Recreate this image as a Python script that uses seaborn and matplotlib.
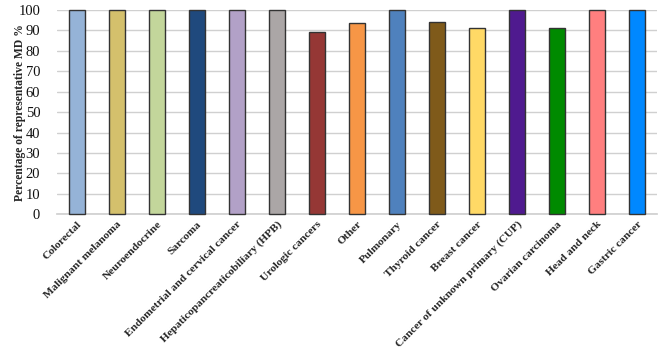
import matplotlib
matplotlib.use("Agg")
import matplotlib.pyplot as plt
import seaborn as sns
import pandas as pd

categories = ["Colorectal", "Malignant melanoma", "Neuroendocrine", "Sarcoma",
              "Endometrial and cervical cancer", "Hepaticopancreaticobiliary (HPB)",
              "Urologic cancers", "Other", "Pulmonary", "Thyroid cancer", "Breast cancer",
              "Cancer of unknown primary (CUP)", "Ovarian carcinoma", "Head and neck",
              "Gastric cancer"]
values = [100, 100, 100, 100, 100, 100, 89, 93.5, 100, 94, 91, 100, 91, 100, 100]
colors = ["#95B3D7", "#D4C06C", "#C3D69B", "#1F497D", "#B2A1C7", "#ABA6A6",
          "#953735", "#F79646", "#4F81BD", "#7F5A1A", "#FFD966", "#4F1A8F",
          "#008A00", "#FF7F7F", "#0088FF"]
yticks = list(range(0, 101, 10))

sns.set_theme(style="white")
plt.rcParams['font.family'] = ['Liberation Serif', 'DejaVu Serif']

df = pd.DataFrame({"cat": categories, "val": values})
fig = plt.figure(figsize=(6.69, 3.57), dpi=100)
ax = fig.add_axes([0.085, 0.40, 0.897, 0.572])
sns.barplot(data=df, x="cat", y="val", hue="cat", palette=colors, legend=False,
            saturation=1, width=0.4, edgecolor="#333333", linewidth=1.0, ax=ax, zorder=3)
for p in ax.patches:
    p.set_clip_on(False)
ax.set_ylim(0, 100)
ax.set_yticks(yticks)
ax.set_yticklabels([str(t) for t in yticks], fontsize=10.5, color="#111111")
ax.yaxis.grid(True, color="#D0D0D0", linewidth=1.0, zorder=0)
ax.set_axisbelow(True)
ax.set_xlabel("")
ax.set_ylabel("Percentage of representative MD %", fontsize=8.4, fontweight="bold")
ax.yaxis.set_label_coords(-0.052, 0.5)
ax.set_xticks(range(len(categories)))
ax.set_xticklabels(categories, rotation=45, ha="right", rotation_mode="anchor",
                   fontsize=8.2, fontweight="bold")
ax.tick_params(axis="both", length=0, pad=4)
ax.tick_params(axis="y", pad=12)
for s in ["top", "right", "left"]:
    ax.spines[s].set_visible(False)
ax.spines["bottom"].set_color("#D0D0D0")
ax.set_xlim(-0.5, len(categories) - 0.5)
fig.savefig("out.png", dpi=100)
